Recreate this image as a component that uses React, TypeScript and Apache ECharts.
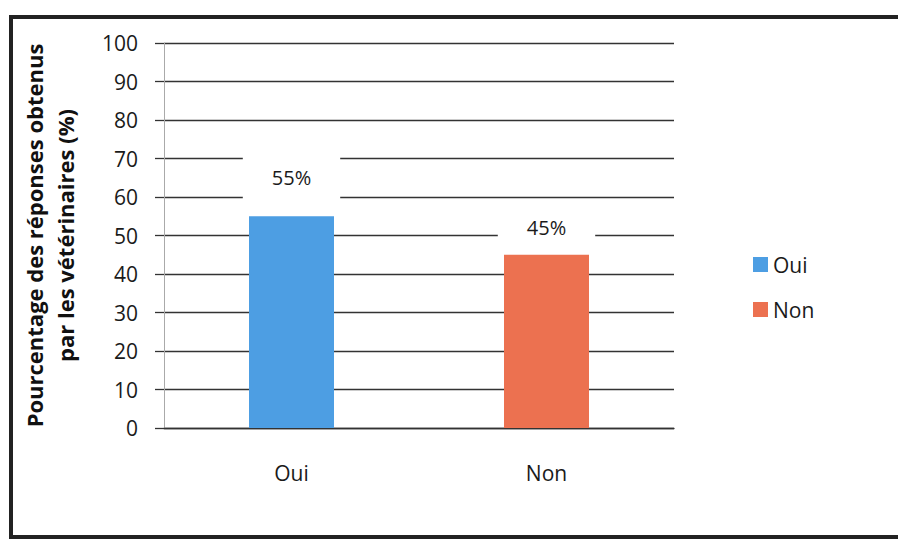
import React, { useEffect, useRef } from "react";
import * as echarts from "echarts";

const categories = ["Oui", "Non"];
const ouiValues: (number | string)[] = [55, "-"];
const nonValues: (number | string)[] = ["-", 45];
const yTicks = { min: 0, max: 100, interval: 10 };
const yTitle = "Pourcentage des réponses obtenus\npar les vétérinaires (%)";

const FONT = "'Open Sans', 'Noto Sans', sans-serif";

export default function App() {
  const ref = useRef<HTMLDivElement>(null);
  useEffect(() => {
    if (!ref.current) return;
    const chart = echarts.init(ref.current, undefined, { renderer: "svg" });
    const labelBase = {
      show: true,
      position: "top" as const,
      formatter: "{c}%",
      fontFamily: FONT,
      fontSize: 20,
      color: "#1a1a1a",
      backgroundColor: "#fff",
      padding: [15, 29],
    };
    chart.setOption({
      animation: false,
      backgroundColor: "#fff",
      textStyle: { fontFamily: FONT },
      graphic: [
        {
          type: "rect",
          shape: { x: 11, y: 17, width: 900, height: 520 },
          style: { fill: "none", stroke: "#222", lineWidth: 4 },
          z: 100,
        },
      ],
      grid: { left: 164, right: 224, top: 43, bottom: 115, containLabel: false },
      legend: {
        orient: "vertical",
        left: 748,
        top: 249,
        itemWidth: 15,
        itemHeight: 15,
        itemGap: 24,
        icon: "rect",
        data: categories,
        textStyle: { fontFamily: FONT, fontSize: 21, color: "#1a1a1a", lineHeight: 20 },
      },
      xAxis: {
        type: "category",
        data: categories,
        axisLine: { show: true, lineStyle: { color: "#333", width: 1.3 } },
        axisTick: { show: false },
        axisLabel: { fontFamily: FONT, fontSize: 21, color: "#1a1a1a", margin: 34 },
      },
      yAxis: {
        type: "value",
        min: yTicks.min,
        max: yTicks.max,
        interval: yTicks.interval,
        name: yTitle,
        nameLocation: "middle",
        nameGap: 84,
        nameRotate: 90,
        nameTextStyle: {
          fontFamily: FONT,
          fontSize: 22,
          fontWeight: "bold",
          color: "#111",
          lineHeight: 31,
          align: "center",
        },
        axisLine: { show: true, lineStyle: { color: "#aaa", width: 1 } },
        axisTick: { show: true, inside: false, length: 9, lineStyle: { color: "#333", width: 1.3 } },
        axisLabel: { fontFamily: FONT, fontSize: 21, color: "#1a1a1a", margin: 26 },
        splitLine: { show: true, lineStyle: { color: "#333", width: 1.3 } },
      },
      series: [
        {
          name: "Oui",
          type: "bar",
          stack: "total",
          barWidth: 85,
          data: ouiValues,
          itemStyle: { color: "#4d9ee3" },
          label: { ...labelBase, distance: 14 },
          z: 3,
        },
        {
          name: "Non",
          type: "bar",
          stack: "total",
          barWidth: 85,
          data: nonValues,
          itemStyle: { color: "#ec7150" },
          label: { ...labelBase, distance: 2 },
          z: 3,
        },
      ],
    });
    return () => chart.dispose();
  }, []);
  return (
    <div
      ref={ref}
      style={{ position: "fixed", left: 0, top: 0, width: 898, height: 543 }}
    />
  );
}
